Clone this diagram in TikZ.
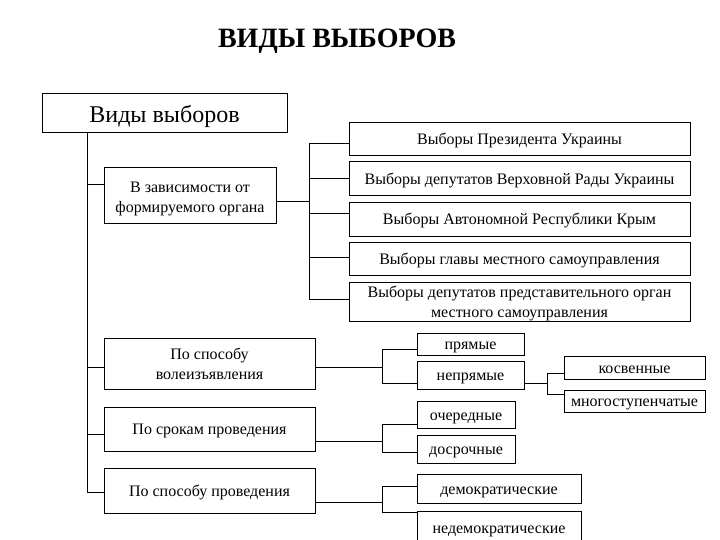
\documentclass[tikz,border=0pt]{standalone}
\usepackage{fontspec}
\setmainfont{Liberation Serif}
\begin{document}
\begin{tikzpicture}[x=1pt,y=-1pt,
  box/.style={draw,line width=1pt,inner sep=0pt,align=center,font=\fontsize{16}{20}\selectfont},
  one/.style={text height=13pt,text depth=2pt},
  two/.style={text height=33pt,text depth=2pt,font=\fontsize{16}{19.5}\selectfont},
  conn/.style={line width=1pt}]
\useasboundingbox[fill=white] (0,0) rectangle (720,540);
\begin{scope}
\clip (0,0) rectangle (720,540);
\node[font=\bfseries\fontsize{28}{32}\selectfont] (title) at (337,41) {ВИДЫ ВЫБОРОВ};
\node[box,minimum width=245pt,minimum height=39pt,text height=22pt,text depth=3pt,font=\fontsize{24}{28}\selectfont] (main) at (164.5,113.5) {Виды выборов};
\node[box,two,minimum width=172pt,minimum height=56pt,text height=36pt,font=\fontsize{16}{20.5}\selectfont] (dep) at (190,196) {В зависимости от\\формируемого органа};
\node[box,one,minimum width=341pt,minimum height=33pt] (p1) at (519.5,139.5) {Выборы Президента Украины};
\node[box,one,minimum width=341pt,minimum height=34pt] (p2) at (519.5,179) {Выборы депутатов Верховной Рады Украины};
\node[box,one,minimum width=341pt,minimum height=33pt] (p3) at (519.5,219.5) {Выборы Автономной Республики Крым};
\node[box,one,minimum width=341pt,minimum height=33pt] (p4) at (519.5,258.5) {Выборы главы местного самоуправления};
\node[box,two,minimum width=341pt,minimum height=39pt] (p5) at (519.5,301.5) {Выборы депутатов представительного орган\\местного самоуправления};
\node[box,two,minimum width=211pt,minimum height=51pt] (vol) at (209.5,363.5) {По способу\\волеизъявления};
\node[box,one,minimum width=211pt,minimum height=44pt] (srok) at (209.5,429) {По срокам проведения};
\node[box,one,minimum width=211pt,minimum height=45pt] (prov) at (209.5,490.5) {По способу проведения};
\node[box,one,minimum width=107pt,minimum height=22pt] (pr) at (470.5,344) {прямые};
\node[box,one,minimum width=107pt,minimum height=28pt] (nepr) at (470.5,375) {непрямые};
\node[box,one,minimum width=141pt,minimum height=23pt] (kos) at (634.5,367.5) {косвенные};
\node[box,one,minimum width=141pt,minimum height=22pt] (mnog) at (634.5,401) {многоступенчатые};
\node[box,one,minimum width=98pt,minimum height=27pt] (och) at (466,414.5) {очередные};
\node[box,one,minimum width=98pt,minimum height=28pt] (dosr) at (466,449) {досрочные};
\node[box,one,minimum width=164pt,minimum height=29pt] (dem) at (499,488.5) {демократические};
\node[box,one,minimum width=164pt,minimum height=34pt] (nedem) at (499,528) {недемократические};
% trunk
\coordinate (t1) at (87,185);
\coordinate (t2) at (87,367);
\coordinate (t3) at (87,434);
\coordinate (t4) at (87,492);
\draw[conn] (main.south -| t1) -- (t4);
\draw[conn] (t1) -- (t1 -| dep.west);
\draw[conn] (t2) -- (t2 -| vol.west);
\draw[conn] (t3) -- (t3 -| srok.west);
\draw[conn] (t4) -- (t4 -| prov.west);
% organ branch
\coordinate (a0) at (309,202);
\coordinate (a1) at (309,144);
\coordinate (a2) at (309,179);
\coordinate (a3) at (309,214);
\coordinate (a4) at (309,257);
\coordinate (a5) at (309,299);
\draw[conn] (a0 -| dep.east) -- (a0);
\draw[conn] (a1) -- (a5);
\draw[conn] (a1) -- (a1 -| p1.west);
\draw[conn] (a2) -- (a2 -| p2.west);
\draw[conn] (a3) -- (a3 -| p3.west);
\draw[conn] (a4) -- (a4 -| p4.west);
\draw[conn] (a5) -- (a5 -| p5.west);
% volition branch
\coordinate (b0) at (382,367);
\coordinate (b1) at (382,349);
\coordinate (b2) at (382,383);
\draw[conn] (b0 -| vol.east) -- (b0);
\draw[conn] (b1) -- (b2);
\draw[conn] (b1) -- (b1 -| pr.west);
\draw[conn] (b2) -- (b2 -| nepr.west);
% indirect branch
\coordinate (c0) at (547,383);
\coordinate (c1) at (547,373);
\coordinate (c2) at (547,394);
\draw[conn] (c0 -| nepr.east) -- (c0);
\draw[conn] (c1) -- (c2);
\draw[conn] (c1) -- (c1 -| kos.west);
\draw[conn] (c2) -- (c2 -| mnog.west);
% terms branch
\coordinate (d0) at (382,441);
\coordinate (d1) at (382,424);
\coordinate (d2) at (382,452);
\draw[conn] (d0 -| srok.east) -- (d0);
\draw[conn] (d1) -- (d2);
\draw[conn] (d1) -- (d1 -| och.west);
\draw[conn] (d2) -- (d2 -| dosr.west);
% method branch
\coordinate (e0) at (382,502);
\coordinate (e1) at (382,486);
\coordinate (e2) at (382,512);
\draw[conn] (e0 -| prov.east) -- (e0);
\draw[conn] (e1) -- (e2);
\draw[conn] (e1) -- (e1 -| dem.west);
\draw[conn] (e2) -- (e2 -| nedem.west);
\end{scope}
\end{tikzpicture}
\end{document}
